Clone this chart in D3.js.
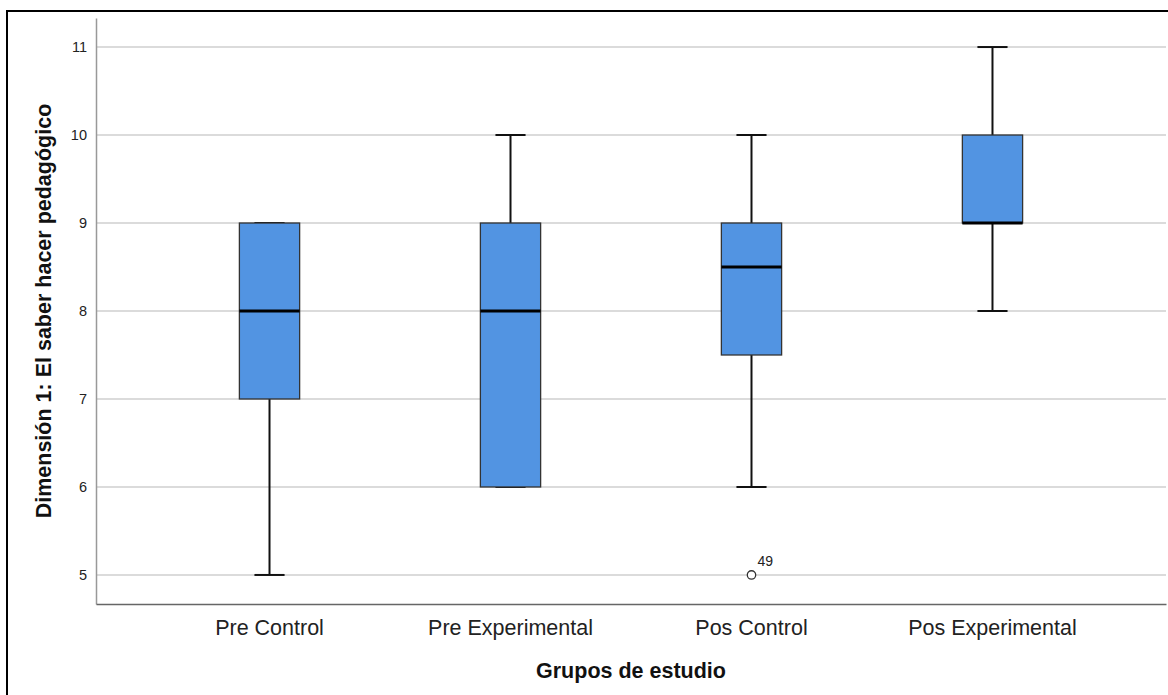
<!DOCTYPE html>
<html><head><meta charset="utf-8">
<script src="https://cdn.jsdelivr.net/npm/d3@7/dist/d3.min.js"></script>
<style>body{margin:0;background:#fff;}svg{display:block;font-family:"Liberation Sans",Arial,sans-serif;}</style>
</head><body>
<svg id="c" width="1168" height="695"></svg>
<script>
const categories = ["Pre Control","Pre Experimental","Pos Control","Pos Experimental"];
const mins    = [5, 6, 6, 8];
const q1s     = [7, 6, 7.5, 9];
const medians = [8, 8, 8.5, 9];
const q3s     = [9, 9, 9, 10];
const maxs    = [9, 10, 10, 11];
const outliers = [{cat:"Pos Control", value:5, label:"49"}];
const yTicks = [5,6,7,8,9,10,11];

(function(){
const svg = d3.select("#c");
const pL=96, pR=1166, pT=18, pB=604;
const x = d3.scaleBand().domain(categories).range([pL,pR]).paddingInner(0).paddingOuter(0.22);
const y = d3.scaleLinear().domain([4.67,11.33]).range([pB,pT]);

// frame
svg.append("path").attr("d",`M7,695 L7,11 L1168,11`).attr("fill","none").attr("stroke","#000").attr("stroke-width",2);

// grid
svg.append("g").selectAll("line").data(yTicks).join("line")
  .attr("x1",pL).attr("x2",pR).attr("y1",d=>y(d)).attr("y2",d=>y(d))
  .attr("stroke","#cfcfcf").attr("stroke-width",1.5);

// axes
const ya = svg.append("g").attr("transform",`translate(${pL},0)`)
  .call(d3.axisLeft(y).tickValues(yTicks).tickSize(0).tickPadding(9).tickFormat(d3.format("d")));
ya.select(".domain").attr("stroke","#999").attr("stroke-width",1.5);
ya.selectAll("text").attr("font-size",14.5).attr("fill","#222").attr("font-family","Liberation Sans, Arial, sans-serif");

const xa = svg.append("g").attr("transform",`translate(0,${pB})`)
  .call(d3.axisBottom(x).tickSize(0).tickPadding(16));
xa.select(".domain").attr("stroke","#666").attr("stroke-width",1.5);
xa.selectAll("text").attr("font-size",21.5).attr("fill","#222").attr("font-family","Liberation Sans, Arial, sans-serif");

// titles
svg.append("text").attr("x",631).attr("y",678).attr("text-anchor","middle")
  .attr("font-size",21.5).attr("font-weight","bold").attr("fill","#111").text("Grupos de estudio");
svg.append("text").attr("transform",`translate(51,${(pT+pB)/2}) rotate(-90)`).attr("text-anchor","middle")
  .attr("font-size",21.5).attr("font-weight","bold").attr("fill","#111").text("Dimensión 1: El saber hacer pedagógico");

// boxes
const bw = x.bandwidth()*0.25, cw = x.bandwidth()*0.0625;
const data = categories.map((c,i)=>({c,min:mins[i],q1:q1s[i],med:medians[i],q3:q3s[i],max:maxs[i]}));
const g = svg.append("g").selectAll("g").data(data).join("g")
  .attr("transform",d=>`translate(${x(d.c)+x.bandwidth()/2},0)`);
g.append("line").attr("x1",0).attr("x2",0).attr("y1",d=>y(d.max)).attr("y2",d=>y(d.min)).attr("stroke","#111").attr("stroke-width",2);
g.append("line").attr("x1",-cw).attr("x2",cw).attr("y1",d=>y(d.max)).attr("y2",d=>y(d.max)).attr("stroke","#111").attr("stroke-width",2);
g.append("line").attr("x1",-cw).attr("x2",cw).attr("y1",d=>y(d.min)).attr("y2",d=>y(d.min)).attr("stroke","#111").attr("stroke-width",2);
g.append("rect").attr("x",-bw/2).attr("width",bw).attr("y",d=>y(d.q3)).attr("height",d=>y(d.q1)-y(d.q3))
  .attr("fill","#5294E2").attr("stroke","#333").attr("stroke-width",1.3);
g.append("line").attr("x1",-bw/2).attr("x2",bw/2).attr("y1",d=>y(d.med)).attr("y2",d=>y(d.med)).attr("stroke","#000").attr("stroke-width",3);

// outliers
const og = svg.append("g").selectAll("g").data(outliers).join("g")
  .attr("transform",d=>`translate(${x(d.cat)+x.bandwidth()/2},${y(d.value)})`);
og.append("circle").attr("r",4.2).attr("fill","#fff").attr("stroke","#333").attr("stroke-width",1.3);
og.append("text").attr("x",6).attr("y",-9).attr("font-size",14).attr("fill","#222").text(d=>d.label);
})();
</script>
</body></html>
